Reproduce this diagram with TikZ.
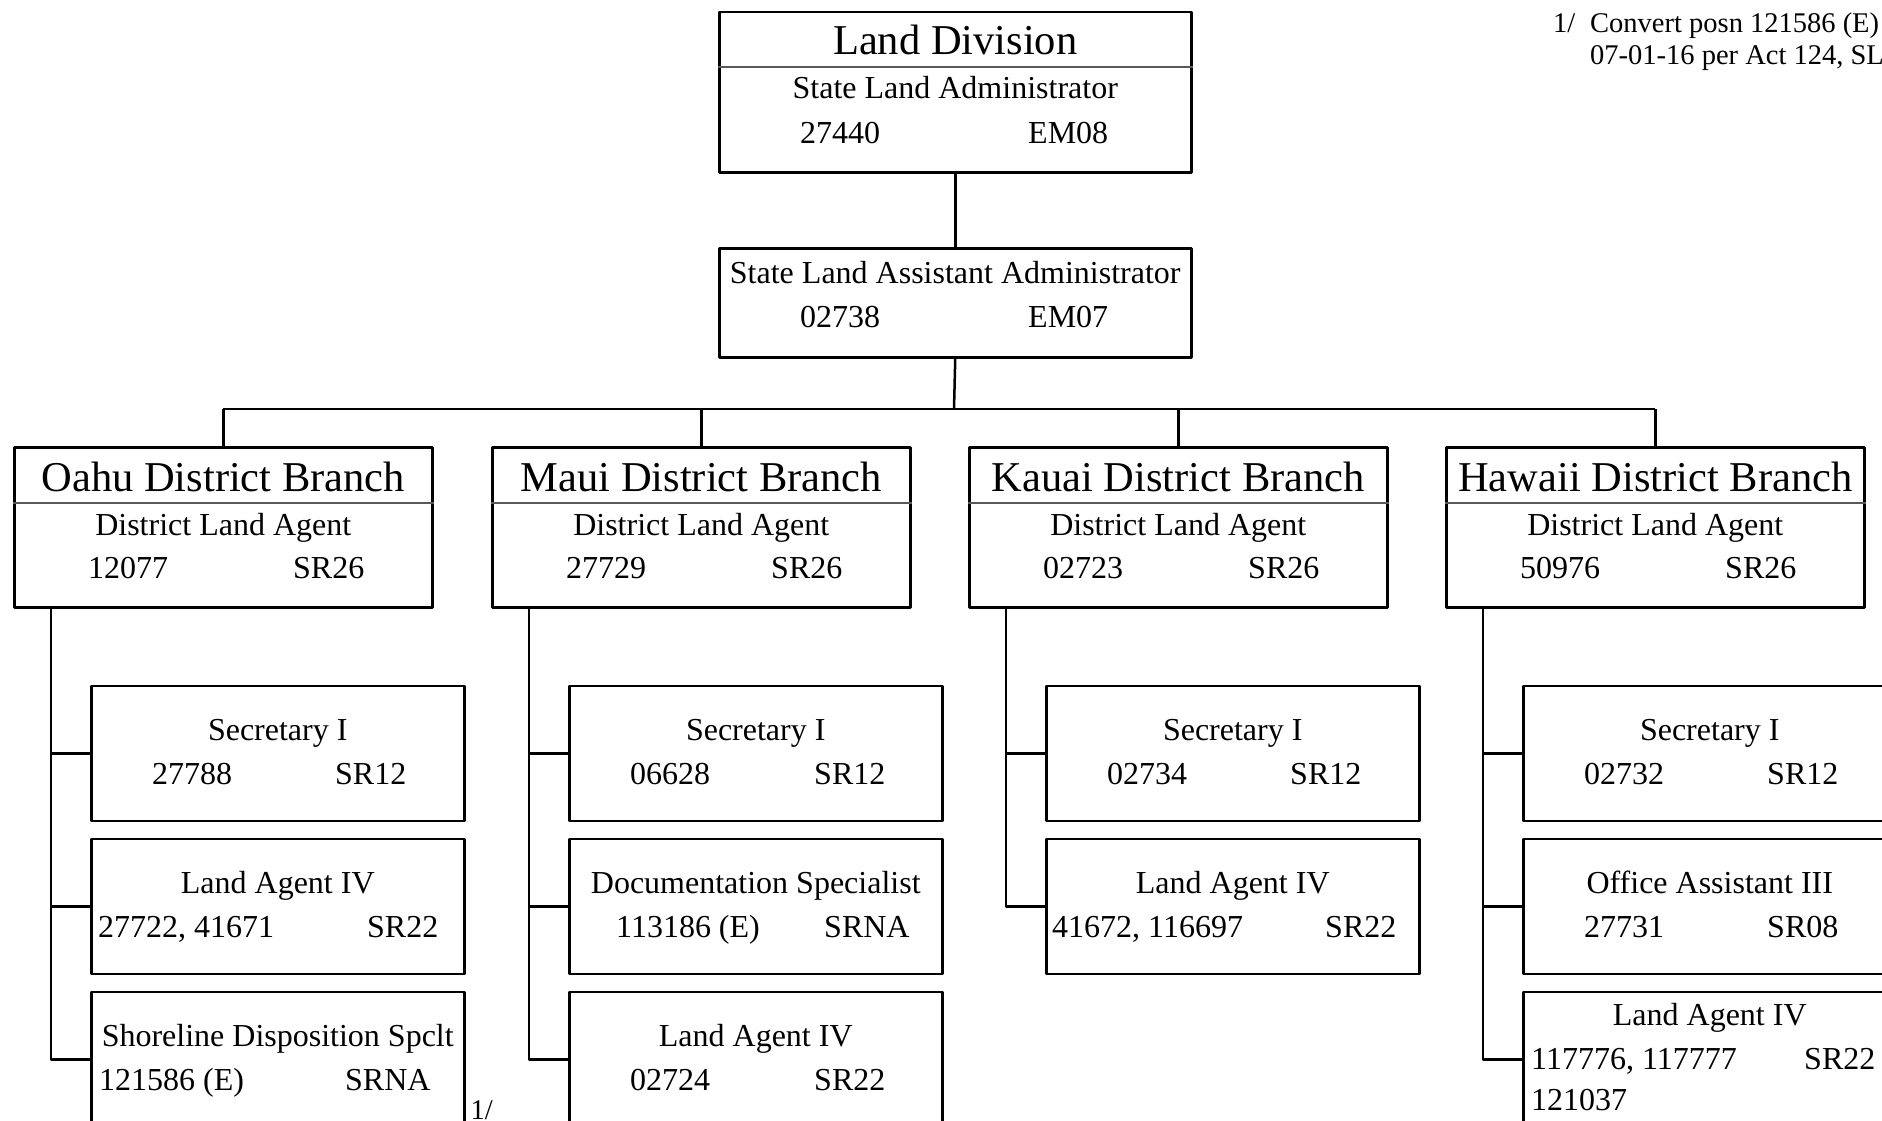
\documentclass[tikz,border=0pt]{standalone}
\usepackage{fontspec}
\setmainfont{Liberation Serif}
\usetikzlibrary{positioning}

\begin{document}
\begin{tikzpicture}[x=1pt,y=-1pt,line join=round,
	box/.style={draw,line width=2.5pt,anchor=north west,inner sep=0pt},
	headbox/.style={box,minimum width=472pt,minimum height=160pt},
	branchbox/.style={box,minimum width=418pt,minimum height=160pt},
	postbox/.style={box,minimum width=373pt,minimum height=135pt},
	link/.style={line width=2.5pt},
	rule/.style={line width=1.2pt,black!65},
	big/.style={font=\fontsize{42.5}{48}\selectfont,anchor=base,inner sep=0pt},
	txt/.style={font=\fontsize{32}{38}\selectfont,anchor=base,inner sep=0pt},
	num/.style={font=\fontsize{32}{38}\selectfont,anchor=base west,inner sep=0pt},
	note/.style={font=\fontsize{28.5}{34}\selectfont,anchor=base west,inner sep=0pt}]
	\useasboundingbox (0,0) rectangle (1882,1121);
	\clip (0,0) rectangle (1882,1121);
	% head of the division
	\node[headbox] (div) at (718,11) {};
	\draw[rule] ([shift={(0,56)}]div.north west) -- ([shift={(0,56)}]div.north east);
	\node[big] (div-t) at ([shift={(0,44)}]div.north) {Land Division};
	\node[txt] (div-s) at ([shift={(0,88)}]div.north) {State Land Administrator};
	\node[num] (div-p) at ([shift={(82,132)}]div.north west) {27440};
	\node[num] (div-g) at ([shift={(310,132)}]div.north west) {EM08};
	\node[box,minimum width=472pt,minimum height=109pt] (asst) at (718,247) {};
	\node[txt] (asst-s) at ([shift={(0,36)}]asst.north) {State Land Assistant Administrator};
	\node[num] (asst-p) at ([shift={(82,80)}]asst.north west) {02738};
	\node[num] (asst-g) at ([shift={(310,80)}]asst.north west) {EM07};
	\draw[link] (div) -- (asst);
	\coordinate (bus) at (954,409);
	\draw[link] (asst.south) -- (bus);
	% district branches
	\foreach \n/\x/\t/\p in {oahu/13/Oahu/12077,maui/491/Maui/27729,kauai/968/Kauai/02723,hawaii/1445/Hawaii/50976}{
		\node[branchbox] (\n) at (\x,446) {};
		\draw[rule] ([shift={(0,57)}]\n.north west) -- ([shift={(0,57)}]\n.north east);
		\node[big] (\n-t) at ([shift={(0,45)}]\n.north) {\t\ District Branch};
		\node[txt] (\n-s) at ([shift={(0,89)}]\n.north) {District Land Agent};
		\node[num] (\n-p) at ([shift={(75,132)}]\n.north west) {\p};
		\node[num] (\n-g) at ([shift={(280,132)}]\n.north west) {SR26};
		\draw[link] (\n.north) -- (\n.north |- bus);
	}
	\draw[link] (oahu.north |- bus) -- (hawaii.north |- bus);
	% positions under each branch
	\foreach \c/\b/\r/\t/\p/\px/\g/\gx in {
		oS/oahu/0/Secretary I/27788/62/SR12/245,
		oL/oahu/1/Land Agent IV/{27722, 41671}/8/SR22/277,
		oD/oahu/2/Shoreline Disposition Spclt/121586 (E)/9/SRNA/255,
		mS/maui/0/Secretary I/06628/62/SR12/246,
		mD/maui/1/Documentation Specialist/113186 (E)/48/SRNA/256,
		mL/maui/2/Land Agent IV/02724/62/SR22/246,
		kS/kauai/0/Secretary I/02734/62/SR12/245,
		kL/kauai/1/Land Agent IV/{41672, 116697}/7/SR22/280,
		hS/hawaii/0/Secretary I/02732/62/SR12/245,
		hO/hawaii/1/Office Assistant III/27731/62/SR08/245}{
		\node[postbox] (\c) at ([shift={(77,76+153*\r)}]\b.south west) {};
		\node[txt] (\c-t) at ([shift={(0,56)}]\c.north) {\t};
		\node[num] (\c-p) at ([shift={(\px,100)}]\c.north west) {\p};
		\node[num] (\c-g) at ([shift={(\gx,100)}]\c.north west) {\g};
		\draw[link] ([shift={(38,0)}]\b.south west) |- (\c.west);
	}
	\node[postbox] (hL) at ([shift={(77,382)}]hawaii.south west) {};
	\node[txt] (hL-t) at ([shift={(0,35)}]hL.north) {Land Agent IV};
	\node[num] (hL-p) at ([shift={(9,79)}]hL.north west) {117776, 117777};
	\node[num] (hL-g) at ([shift={(282,79)}]hL.north west) {SR22};
	\node[num] (hL-q) at ([shift={(9,120)}]hL.north west) {121037};
	\draw[link] ([shift={(38,0)}]hawaii.south west) |- (hL.west);
	% footnote
	\node[note] (oD-fn) at ([shift={(5,129)}]oD.north east) {1/};
	\node[note] (fn) at (1553,33) {1/};
	\node[note] (fn-a) at (1590,33) {Convert posn 121586 (E)};
	\node[note] (fn-b) at (1590,65) {07-01-16 per Act 124, SL};
\end{tikzpicture}
\end{document}
